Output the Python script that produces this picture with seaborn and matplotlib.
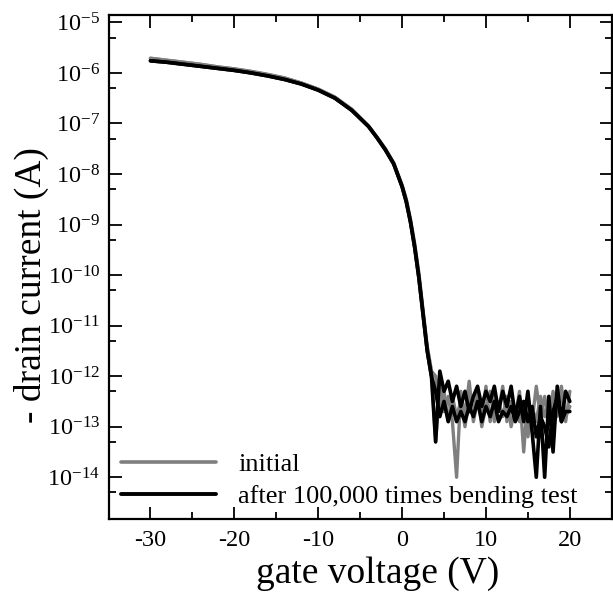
import numpy as np
import pandas as pd
import matplotlib
matplotlib.use("Agg")
import matplotlib.pyplot as plt
import matplotlib.ticker as mticker
from matplotlib.lines import Line2D
import seaborn as sns

# ---------------- data (log10 of -drain current in A) ----------------
x_on = [-30, -28, -26, -24, -22, -20, -18, -16, -14, -12, -10, -8, -6, -4, -3, -2, -1,
        0, 0.5, 1, 1.5, 2, 2.5, 3, 3.5]
x_off = [4.0, 4.5, 5.0, 5.5, 6.0, 6.5, 7.0, 7.5, 8.0, 8.5, 9.0, 9.5, 10.0, 10.5, 11.0,
         11.5, 12.0, 12.5, 13.0, 13.5, 14.0, 14.5, 15.0, 15.5, 16.0, 16.5, 17.0, 17.5,
         18.0, 18.5, 19.0, 19.5, 20.0]

initial_on = [-5.71, -5.75, -5.79, -5.83, -5.88, -5.92, -5.97, -6.03, -6.10, -6.20, -6.32,
              -6.48, -6.72, -7.05, -7.27, -7.50, -7.78, -8.22, -8.50, -8.90, -9.38, -9.97,
              -10.70, -11.42, -11.90]
initial_fwd_off = [-13.3, -12.2, -12.7, -12.4, -12.9, -14.0, -12.3, -12.8, -12.1, -12.9, -12.5,
                   -12.8, -12.2, -12.9, -12.4, -12.7, -12.2, -12.9, -12.5, -12.8, -12.3, -13.5,
                   -12.4, -12.9, -12.2, -12.8, -12.4, -12.9, -12.3, -12.8, -12.2, -12.9, -12.3]
initial_rev_off = [-12.0, -12.6, -12.3, -12.9, -12.4, -12.8, -12.5, -13.0, -12.4, -12.7, -12.3,
                   -13.0, -12.6, -12.3, -12.9, -12.5, -12.8, -12.4, -13.0, -12.6, -12.9, -12.5,
                   -13.2, -12.6, -12.9, -12.4, -12.8, -12.5, -13.0, -12.6, -12.4, -12.8, -12.6]

after_on = [-5.76, -5.79, -5.83, -5.87, -5.91, -5.95, -6.00, -6.06, -6.13, -6.22, -6.34,
            -6.50, -6.74, -7.06, -7.28, -7.52, -7.80, -8.25, -8.55, -8.95, -9.45, -10.05,
            -10.78, -11.50, -12.00]
after_fwd_off = [-13.3, -11.9, -12.3, -12.1, -12.5, -12.2, -12.6, -12.3, -12.7, -12.4, -12.2,
                 -12.6, -12.3, -12.5, -12.2, -12.7, -12.3, -12.6, -12.2, -12.8, -12.4, -12.9,
                 -12.3, -13.1, -14.0, -12.6, -14.0, -12.4, -13.5, -12.2, -12.9, -12.3, -12.5]
after_rev_off = [-12.3, -12.8, -12.5, -12.9, -12.6, -12.9, -12.7, -12.9, -12.6, -12.8, -12.5,
                 -12.9, -12.6, -12.8, -12.5, -12.9, -12.7, -12.8, -12.6, -12.9, -12.7, -12.5,
                 -12.9, -12.6, -13.2, -12.8, -13.0, -13.4, -12.7, -12.4, -12.9, -12.7, -12.7]

labels = ["initial", "after 100,000 times bending test"]
colors = ["#7f7f7f", "#000000"]

# ---------------- styling ----------------
sns.set_theme(style="ticks")
plt.rcParams["font.family"] = ["Liberation Serif", "DejaVu Serif"]
plt.rcParams["mathtext.fontset"] = "custom"
plt.rcParams["mathtext.rm"] = "Liberation Serif"
plt.rcParams["mathtext.it"] = "Liberation Serif:italic"
plt.rcParams["axes.unicode_minus"] = False
plt.rcParams["text.color"] = "black"
plt.rcParams["axes.labelcolor"] = "black"
plt.rcParams["xtick.color"] = "black"
plt.rcParams["ytick.color"] = "black"

fig = plt.figure(figsize=(6.13, 5.92), dpi=100)
ax = fig.add_axes([0.177, 0.123, 0.821, 0.852])

rows = []
for lab, on, fwd, rev in [(labels[0], initial_on, initial_fwd_off, initial_rev_off),
                          (labels[1], after_on, after_fwd_off, after_rev_off)]:
    xs = list(x_on) + list(x_off)
    for sweep, off in (("fwd", fwd), ("rev", rev)):
        ys = list(on) + list(off)
        for xv, yv in zip(xs, ys):
            rows.append({"V": xv, "I": 10.0 ** yv, "series": lab, "sweep": sweep})
df = pd.DataFrame(rows)

for lab, col, lw in zip(labels, colors, [2.4, 2.6]):
    sub = df[df["series"] == lab]
    sns.lineplot(data=sub, x="V", y="I", units="sweep", estimator=None, sort=False,
                 color=col, linewidth=lw, ax=ax, label=None)

ax.set_yscale("log")
ax.set_xlim(-35, 25)
ax.set_ylim(10 ** -14.83, 10 ** -4.85)

ax.xaxis.set_major_locator(mticker.MultipleLocator(10))
ax.xaxis.set_minor_locator(mticker.MultipleLocator(5))
ax.yaxis.set_major_locator(mticker.LogLocator(base=10, numticks=30))
ax.yaxis.set_minor_locator(mticker.LogLocator(base=10, subs=[5.0], numticks=30))
ax.yaxis.set_minor_formatter(mticker.NullFormatter())
ax.yaxis.set_major_formatter(mticker.LogFormatterSciNotation())

ax.tick_params(which="both", direction="in", top=True, right=True, colors="black",
               labelcolor="black", width=1.3, labelsize=17.5, pad=6)
ax.tick_params(axis="x", which="major", pad=8)
ax.tick_params(which="major", length=9)
ax.tick_params(which="minor", length=5)
for sp in ax.spines.values():
    sp.set_linewidth(1.6)
    sp.set_color("black")

ax.set_xlabel("gate voltage (V)", fontsize=27, color="black")
ax.set_ylabel("- drain current (A)", fontsize=27, color="black")
ax.xaxis.set_label_coords(0.534, -0.073)
ax.yaxis.set_label_coords(-0.118, 0.465)

handles = [Line2D([], [], color=c, lw=lw) for c, lw in zip(colors, [2.6, 2.8])]
ax.legend(handles, labels, loc="lower left", bbox_to_anchor=(0.024, 0.022), frameon=False,
          fontsize=19, handlelength=3.6, handletextpad=0.85, labelspacing=0.32,
          borderpad=0, borderaxespad=0, labelcolor="black")

fig.savefig("out.png", dpi=100)
